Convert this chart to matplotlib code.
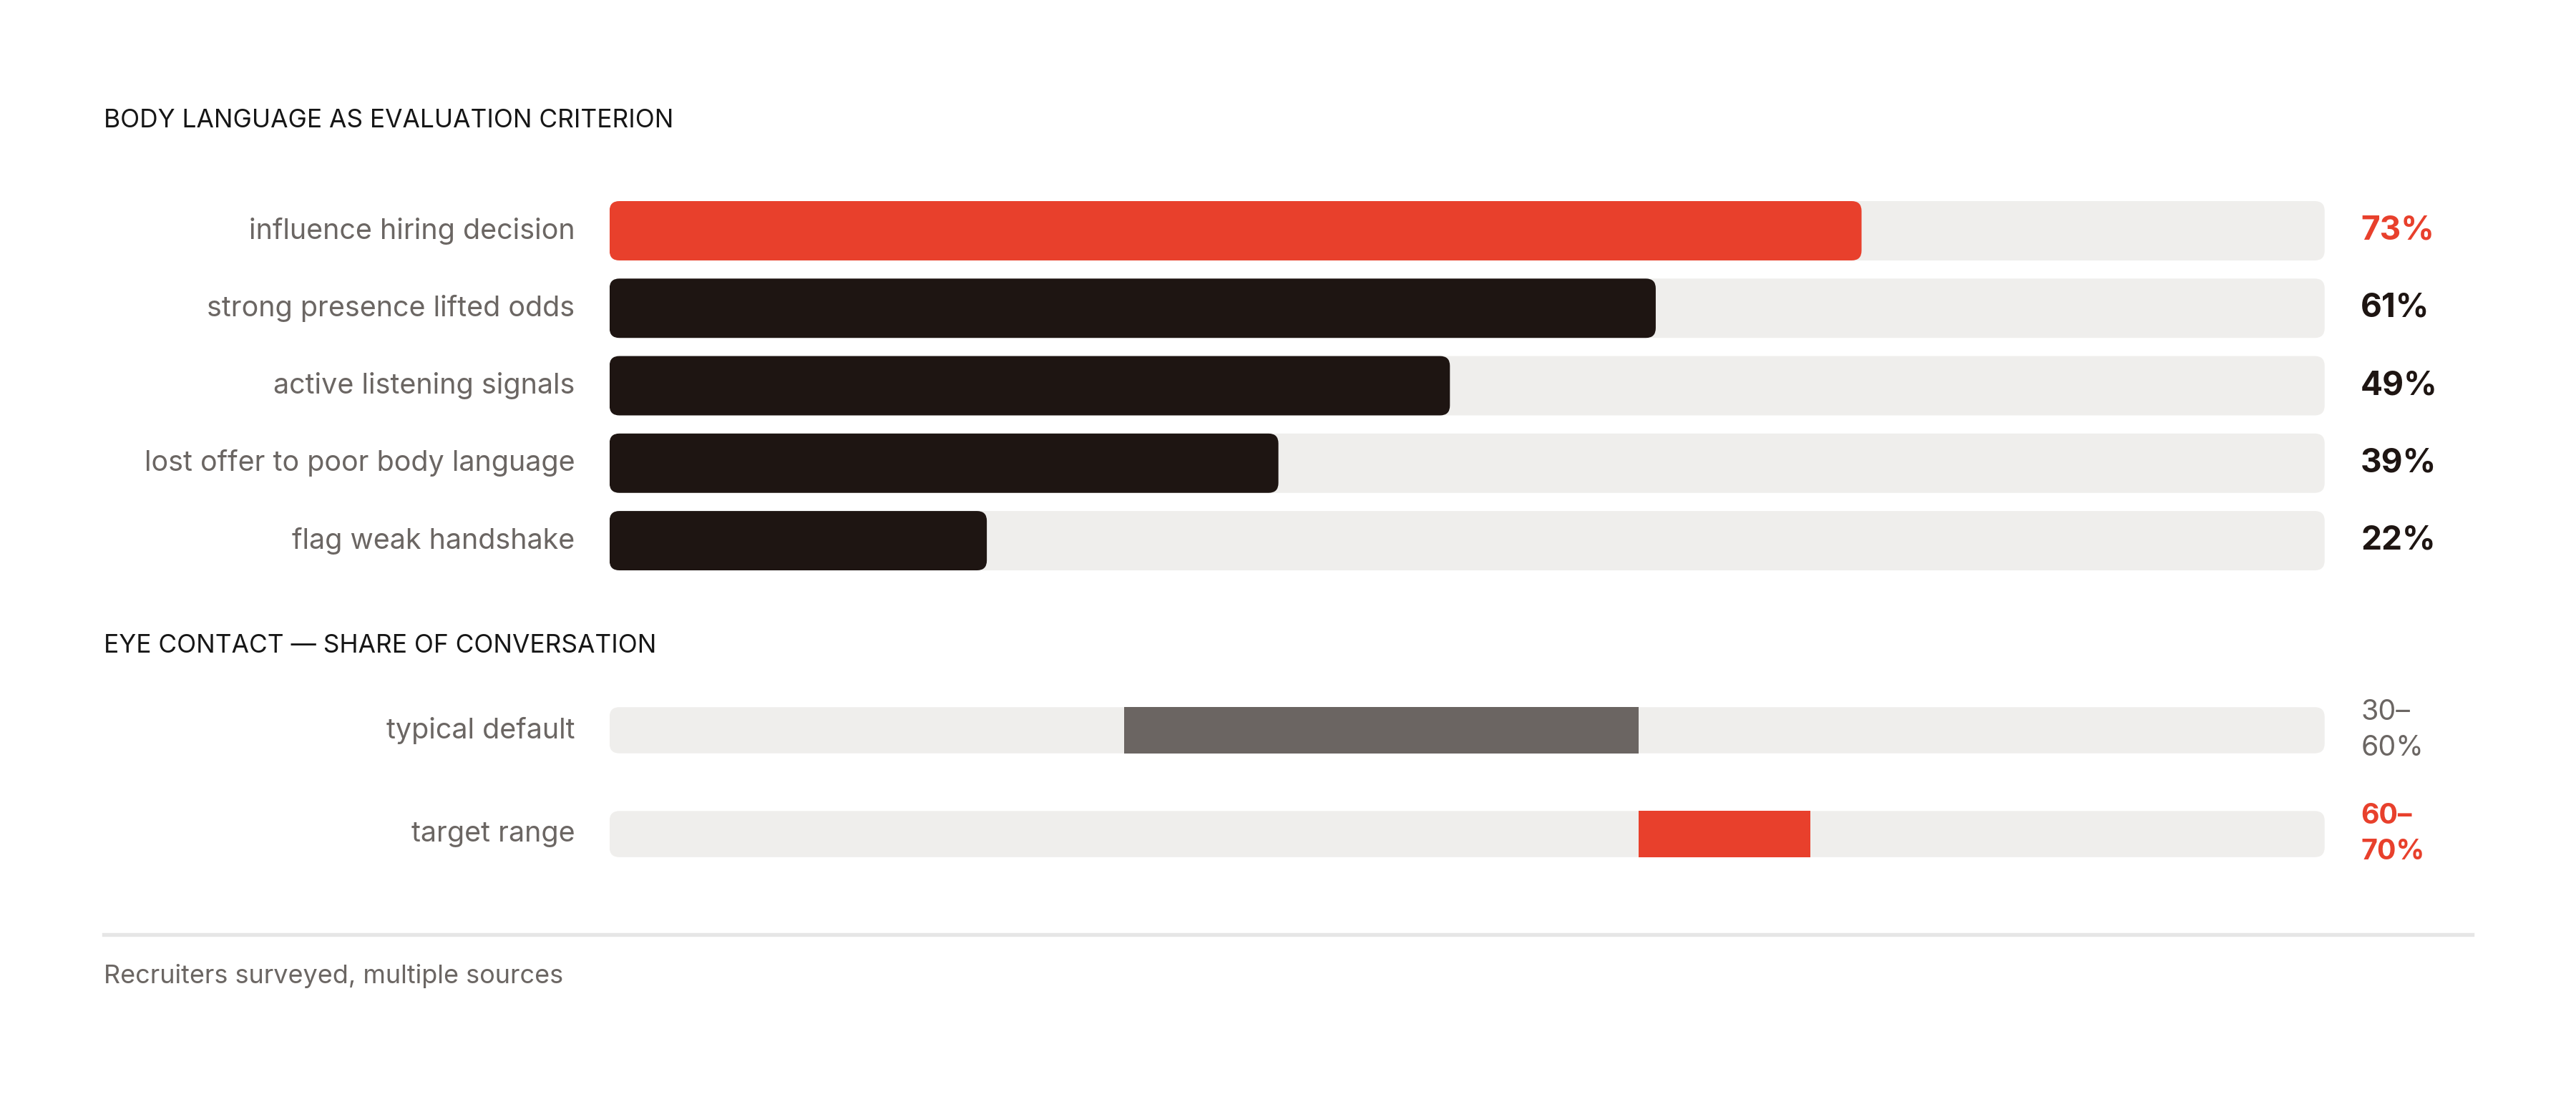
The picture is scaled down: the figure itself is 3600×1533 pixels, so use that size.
import matplotlib
matplotlib.use("Agg")
import matplotlib.pyplot as plt
from matplotlib.patches import FancyBboxPatch

# ---- data ----
body_labels = ["influence hiring decision", "strong presence lifted odds",
               "active listening signals", "lost offer to poor body language",
               "flag weak handshake"]
body_values = [73, 61, 49, 39, 22]
body_highlight = [True, False, False, False, False]

eye_labels = ["typical default", "target range"]
eye_low = [30, 60]
eye_high = [60, 70]
eye_highlight = [False, True]

title1 = "BODY LANGUAGE AS EVALUATION CRITERION"
title2 = "EYE CONTACT \u2014 SHARE OF CONVERSATION"
footer = "Recruiters surveyed, multiple sources"

# ---- style ----
RED = "#E8402C"
DARK = "#1E1512"
TRACK = "#EFEEEC"
RANGE_GRAY = "#6B6562"
LABEL_GRAY = "#6B6663"
RULE = "#E6E6E6"
FONT = ["Inter", "DejaVu Sans"]
plt.rcParams["font.family"] = FONT

W, H = 1568.0, 665.5  # layout reference units


def fx(x):
    return x / W


def fy(y):
    return 1 - y / H


fig = plt.figure(figsize=(15, 6.3875), dpi=240)
fig.patch.set_facecolor("white")

# ---- section 1 axes ----
x0, x1 = 371, 1415
row_h1 = 47.0
top1 = 140 - row_h1 / 2
n1 = len(body_values)
ax1 = fig.add_axes([fx(x0), fy(top1 + n1 * row_h1), fx(x1) - fx(x0), (n1 * row_h1) / H])
ax1.set_xlim(0, 100)
ax1.set_ylim(n1 - 0.5, -0.5)
ax1.axis("off")
xunit = (x1 - x0) / 100.0
bh1 = 36 / row_h1
r_px = 6.0
aspect1 = xunit / row_h1
for i, (lab, v, hl) in enumerate(zip(body_labels, body_values, body_highlight)):
    ax1.add_patch(FancyBboxPatch((0, i - bh1 / 2), 100, bh1,
                                 boxstyle=f"round,pad=0,rounding_size={r_px / xunit}",
                                 mutation_aspect=aspect1, fc=TRACK, ec="none"))
    col = RED if hl else DARK
    ax1.add_patch(FancyBboxPatch((0, i - bh1 / 2), v, bh1,
                                 boxstyle=f"round,pad=0,rounding_size={r_px / xunit}",
                                 mutation_aspect=aspect1, fc=col, ec="none"))
    ax1.text(-21 / xunit, i, lab, ha="right", va="center", fontsize=11.85,
             color=LABEL_GRAY)
    ax1.text(100 + 22 / xunit, i, f"{v}%", ha="left", va="center", fontsize=13.8,
             fontweight="bold", color=col)

# ---- section 2 axes ----
row_h2 = 63.0
top2 = 443 - row_h2 / 2
n2 = len(eye_labels)
ax2 = fig.add_axes([fx(x0), fy(top2 + n2 * row_h2), fx(x1) - fx(x0), (n2 * row_h2) / H])
ax2.set_xlim(0, 100)
ax2.set_ylim(n2 - 0.5, -0.5)
ax2.axis("off")
bh2 = 28 / row_h2
aspect2 = xunit / row_h2
for i, (lab, lo, hi, hl) in enumerate(zip(eye_labels, eye_low, eye_high, eye_highlight)):
    ax2.add_patch(FancyBboxPatch((0, i - bh2 / 2), 100, bh2,
                                 boxstyle=f"round,pad=0,rounding_size={r_px / xunit}",
                                 mutation_aspect=aspect2, fc=TRACK, ec="none"))
    col = RED if hl else RANGE_GRAY
    ax2.barh(i, hi - lo, left=lo, height=bh2, color=col, linewidth=0)
    ax2.text(-21 / xunit, i, lab, ha="right", va="center", fontsize=11.85,
             color=LABEL_GRAY)
    ax2.text(100 + 22 / xunit, i, f"{lo}\u2013\n{hi}%", ha="left", va="center",
             fontsize=11.8, linespacing=1.45,
             fontweight="bold" if hl else "normal",
             color=RED if hl else LABEL_GRAY)

# ---- titles / footer ----
fig.text(fx(63), fy(73), title1, ha="left", va="center", fontsize=10.6,
         color="#161616")
fig.text(fx(63), fy(392), title2, ha="left", va="center", fontsize=10.6,
         color="#161616")
fig.add_artist(plt.Line2D([fx(63), fx(1505)], [fy(567), fy(567)], color=RULE,
                          lw=1.6, transform=fig.transFigure))
fig.text(fx(63), fy(592), footer, ha="left", va="center", fontsize=10.8,
         color=LABEL_GRAY)

fig.savefig("out.png", dpi=240, facecolor="white")
